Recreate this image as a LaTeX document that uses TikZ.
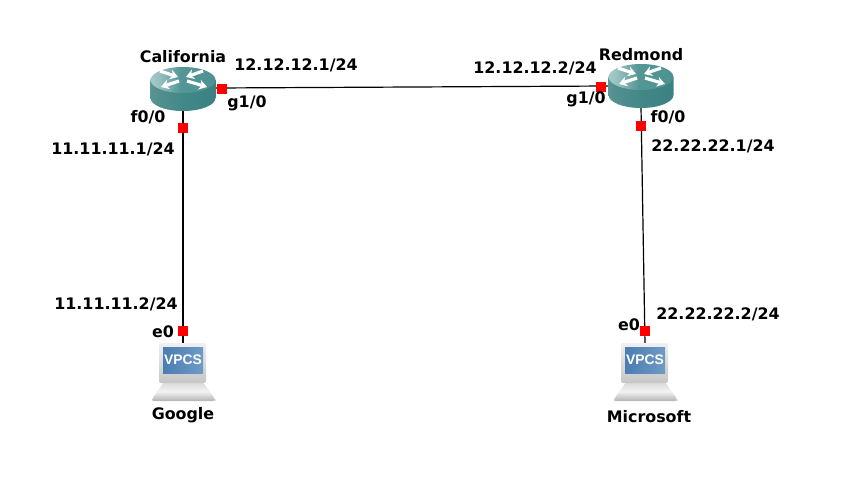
\documentclass[tikz,border=0pt]{standalone}
\usepackage{fontspec}
\setmainfont{DejaVu Sans}
\newfontfamily\vpcsfont{Liberation Sans Bold}
\usetikzlibrary{arrows.meta}
\definecolor{vblue}{HTML}{4A7DB2}
\definecolor{vbluel}{HTML}{6F9AC6}
\pgfdeclarehorizontalshading{rsideshade}{100bp}{
  color(0bp)=(rgb,255:red,150;green,190;blue,190);
  color(28bp)=(rgb,255:red,84;green,144;blue,144);
  color(55bp)=(rgb,255:red,63;green,134;blue,134);
  color(100bp)=(rgb,255:red,56;green,124;blue,124)}
\pgfdeclarehorizontalshading{rtopshade}{100bp}{
  color(0bp)=(rgb,255:red,225;green,238;blue,238);
  color(32bp)=(rgb,255:red,150;green,192;blue,192);
  color(48bp)=(rgb,255:red,84;green,150;blue,150);
  color(100bp)=(rgb,255:red,70;green,142;blue,142)}
\tikzset{
  x=0.75pt,y=-0.75pt,
  lbl/.style={font=\bfseries\fontsize{11.9}{14}\selectfont,text=black,inner sep=0pt},
  port/.style={fill=red,draw=none,minimum size=7.2pt,inner sep=0pt,rectangle},
  link/.style={draw=black,line width=0.9pt},
  routerbox/.style={minimum width=48.75pt,minimum height=31.5pt,inner sep=0pt,rectangle},
  pcbox/.style={minimum width=34.5pt,minimum height=42pt,inner sep=0pt,rectangle},
  rarrow/.style={white,line width=2.4pt,-{Stealth[length=6pt,width=7.5pt]}}
}
\newcommand{\routericon}[2]{%
  \begin{scope}[shift={(#1,#2)}]
    \path[shading=rsideshade]
      (-32.5,-10) -- (-32.5,8) arc[start angle=180,end angle=0,x radius=32.5,y radius=13] -- (32.5,-10) -- cycle;
    \path[shading=rtopshade]
      (0,-10) ellipse[x radius=32.5,y radius=13];
    \draw[rarrow] (-23,-19) -- (-5,-13);
    \draw[rarrow] (20,-19) -- (3,-13);
    \draw[rarrow] (-4,-9) -- (-22,-3);
    \draw[rarrow] (4,-9) -- (24,-3);
  \end{scope}}
\newcommand{\pcicon}[2]{%
  \begin{scope}[shift={(#1,#2)}]
    \path[top color=gray!30,bottom color=gray!60,middle color=gray!10,rounded corners=1.5pt]
      (-19,10) -- (20,10) -- (32,27) -- (32,29) -- (-31,29) -- (-31,27) -- cycle;
    \path[top color=gray!12,bottom color=gray!45,rounded corners=1.5pt]
      (-24,-29) rectangle (23,11);
    \path[left color=vblue,right color=vbluel] (-20,-25) rectangle (20,1);
    \node[font=\vpcsfont\fontsize{10.4}{12}\selectfont,text=white,inner sep=0pt] at (0,-12) {VPCS};
  \end{scope}}
\begin{document}
\begin{tikzpicture}
\useasboundingbox (0,0) rectangle (841,500);
\fill[white] (0,0) rectangle (841,500);
% anchors of the devices
\node[routerbox] (cal) at (183,88) {};
\node[routerbox] (red) at (641,86) {};
\node[pcbox] (goo) at (183,372) {};
\node[pcbox] (mic) at (645,372) {};
% connectors
\draw[link] (cal.east) -- (red.west);
\draw[link] (cal.south) -- (goo.north);
\draw[link] (red.south) -- (mic.north);
% icons
\routericon{183}{90}
\routericon{641}{87}
\pcicon{183}{372}
\pcicon{645}{372}
% ports
\node[port] (p1) at (222,89) {};
\node[port] (p2) at (601,87) {};
\node[port] (p3) at (183,128) {};
\node[port] (p4) at (641,126) {};
\node[port] (p5) at (183,331) {};
\node[port] (p6) at (645,331) {};
% labels
\node[lbl] (t1) at (183,57) {California};
\node[lbl] (t2) at (641,55) {Redmond};
\node[lbl] (t3) at (296,65) {12.12.12.1/24};
\node[lbl] (t4) at (535,68) {12.12.12.2/24};
\node[lbl] (t5) at (247,103) {g1/0};
\node[lbl] (t6) at (586,99) {g1/0};
\node[lbl] (t7) at (148,117) {f0/0};
\node[lbl] (t8) at (668,117) {f0/0};
\node[lbl] (t9) at (113,149) {11.11.11.1/24};
\node[lbl] (t10) at (713,146) {22.22.22.1/24};
\node[lbl] (t11) at (116,304) {11.11.11.2/24};
\node[lbl] (t12) at (718,314) {22.22.22.2/24};
\node[lbl] (t13) at (163,332) {e0};
\node[lbl] (t14) at (629,325) {e0};
\node[lbl] (t15) at (183,415) {Google};
\node[lbl] (t16) at (649,417) {Microsoft};
\end{tikzpicture}
\end{document}
